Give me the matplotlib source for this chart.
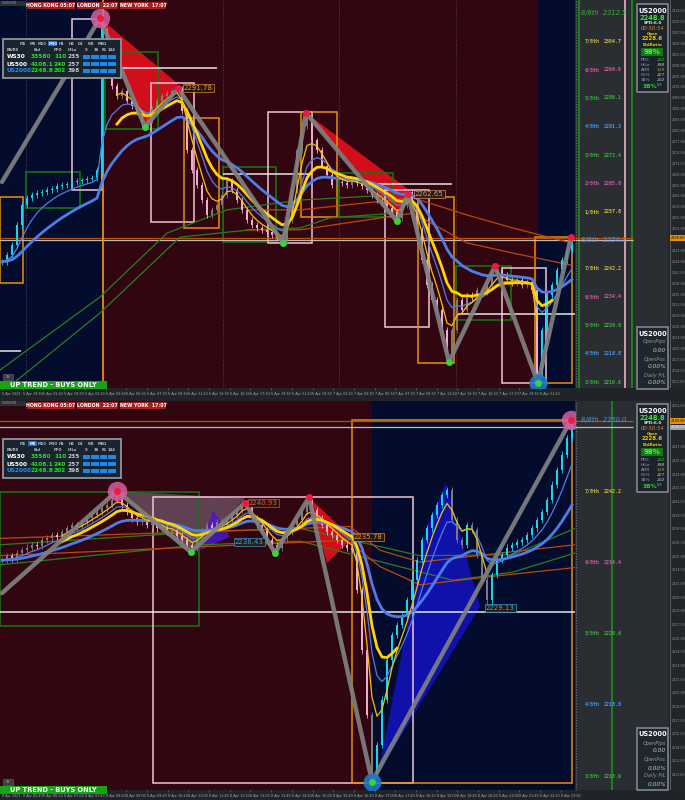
import matplotlib
matplotlib.use('Agg')
import matplotlib.pyplot as plt
from matplotlib.patches import Rectangle, Polygon
from matplotlib.ticker import MaxNLocator
import numpy as np
import pandas as pd

# ---------------- data: upper chart ----------------
top_close = [2244.0, 2245.9, 2248.6, 2254.1, 2259.6, 2261.5, 2262.3, 2262.9, 2263.2, 2263.7,
             2264.0, 2264.8, 2265.1, 2265.3, 2265.9, 2266.2, 2266.4, 2266.7, 2267.0, 2269.2,
             2307.5, 2296.6, 2292.5, 2289.7, 2291.1, 2288.4, 2287.0, 2285.1, 2282.3, 2282.9,
             2286.2, 2288.4, 2289.7, 2290.6, 2291.1, 2291.6, 2285.6, 2274.7, 2269.2, 2265.1,
             2261.0, 2256.8, 2258.2, 2259.6, 2262.3, 2266.4, 2263.7, 2261.0, 2258.2, 2255.5,
             2254.1, 2253.3, 2252.7, 2252.2, 2251.4, 2250.5, 2250.0, 2255.5, 2263.7, 2274.7,
             2281.5, 2283.4, 2277.4, 2274.7, 2270.5, 2267.8, 2265.1, 2265.9, 2265.6, 2265.1,
             2266.4, 2265.6, 2264.8, 2263.7, 2262.3, 2261.0, 2260.1, 2258.8, 2257.7, 2256.0,
             2259.6, 2263.2, 2259.6, 2252.7, 2244.5, 2237.7, 2233.6, 2230.8, 2225.3, 2219.3,
             2225.3, 2233.6, 2230.8, 2234.9, 2234.1, 2236.3, 2235.8, 2237.7, 2240.4, 2241.8,
             2240.4, 2239.0, 2238.2, 2239.0, 2237.7, 2238.5, 2236.3, 2213.0, 2225.3, 2234.9,
             2237.7, 2241.8, 2244.5, 2247.3, 2248.8]
top_sessions = [(-0.4, 20.4, 'navy'), (20.4, 107.2, 'red'), (107.2, 114.6, 'navy')]
top_swing_x = [0.0, 19.6, 28.6, 35.2, 56.2, 60.8, 79.0, 81.2, 89.4, 98.6, 107.2, 113.8]
top_swing_p = [2266.0, 2311.1, 2281.1, 2291.8, 2249.2, 2285.0, 2255.2, 2262.65, 2216.4, 2242.85, 2210.6, 2250.8]
top_big_high = [1]
top_big_low = [10]
top_boxes = [(-0.4, 4.2, 2261.8, 2238.2, 'orange'), (4.8, 15.6, 2268.7, 2258.8, 'green'),
             (14.0, 20.0, 2310.8, 2263.8, 'pink'), (20.6, 31.2, 2301.8, 2280.6, 'green'),
             (29.8, 38.4, 2293.2, 2255.0, 'pink'), (36.4, 43.4, 2283.6, 2253.3, 'orange'),
             (44.2, 54.8, 2270.1, 2249.5, 'green'), (53.2, 62.0, 2285.2, 2249.2, 'pink'),
             (59.8, 67.0, 2285.2, 2256.3, 'orange'), (67.4, 78.2, 2268.5, 2256.3, 'green'),
             (76.6, 85.4, 2263.8, 2226.1, 'pink'), (83.2, 90.4, 2261.8, 2216.1, 'orange'),
             (90.8, 101.8, 2242.8, 2228.0, 'green'), (100.0, 108.8, 2242.3, 2210.6, 'pink'),
             (106.6, 114.0, 2250.8, 2210.6, 'orange')]
top_white = [(20.6, 43.0, 2297.4), (44.2, 62.0, 2268.2), (72.2, 90.0, 2265.4),
             (91.0, 114.6, 2229.6), (-0.4, 3.8, 2219.4)]
top_levels = [(2250.6, 'orange'), (2250.0, 'light')]
top_tri = [([19.6, 35.2, 28.6], [2311.1, 2293.0, 2281.7], 'red'),
           ([60.8, 81.2, 79.0], [2285.0, 2264.0, 2256.9], 'red')]
top_long = [([-0.4, 19.6, 33.0, 45.0, 59.6, 78.2], [2214.2, 2234.3, 2251.9, 2258.3, 2261.0, 2262.4], 'green'),
            ([0.6, 19.6, 35.6, 49.6, 59.6, 65.6, 78.6], [2208.7, 2229.9, 2250.8, 2252.8, 2253.3, 2256.1, 2257.4], 'green'),
            ([49.6, 59.6, 82.2, 93.0, 102.2, 113.8], [2258.3, 2258.3, 2261.6, 2256.9, 2253.3, 2249.2], 'orange'),
            ([49.0, 59.6, 82.2, 93.0, 102.2, 113.8], [2252.8, 2252.8, 2257.4, 2249.2, 2246.4, 2243.1], 'orange')]
top_tags = [(36.4, 2291.78, '2291.78', 'orange'), (82.6, 2262.65, '2262.65', 'sand')]
top_seps = [4.8, 44.2, 67.4, 90.8]
top_vline = 20.2
top_times = ['5 Apr 2023', '5 Apr 19:30', '5 Apr 21:30', '5 Apr 23:30', '6 Apr 01:30', '6 Apr 03:30',
             '6 Apr 05:30', '6 Apr 07:30', '6 Apr 09:30', '6 Apr 11:30', '6 Apr 13:30', '6 Apr 15:30',
             '6 Apr 17:30', '6 Apr 19:30', '6 Apr 21:30', '6 Apr 23:30', '7 Apr 01:30', '7 Apr 03:30',
             '7 Apr 05:30', '7 Apr 07:30', '7 Apr 09:30', '7 Apr 11:30', '7 Apr 13:30', '7 Apr 15:30',
             '7 Apr 17:30', '7 Apr 19:30', '8 Apr 21:30']
top_mm_name = ['8/8th', '7/8th', '6/8th', '5/8th', '4/8th', '3/8th', '2/8th', '1/8th',
               '8/8th', '7/8th', '6/8th', '5/8th', '4/8th', '3/8th']
top_mm_val = [2312.5, 2304.7, 2296.9, 2289.1, 2281.3, 2273.4, 2265.6, 2257.8,
              2250.0, 2242.2, 2234.4, 2226.6, 2218.8, 2210.9]
top_mm_col = ['g', 'y', 'p', 'g', 'b', 'g', 'p', 'y', 'b', 'y', 'p', 'g', 'b', 'g']

# ---------------- data: lower chart ----------------
bot_close = [2234.6, 2235.1, 2234.8, 2235.4, 2235.7, 2236.0, 2236.3, 2236.2, 2236.8, 2237.0,
             2237.4, 2237.2, 2237.7, 2238.1, 2238.5, 2238.3, 2238.8, 2239.2, 2239.6, 2239.9,
             2240.3, 2240.7, 2241.2, 2241.7, 2240.7, 2239.9, 2239.2, 2238.8, 2239.0, 2238.5,
             2238.7, 2238.1, 2238.3, 2237.7, 2237.9, 2237.3, 2236.8, 2236.3, 2236.0, 2237.0,
             2237.9, 2238.5, 2238.1, 2238.8, 2238.5, 2239.0, 2239.6, 2240.1, 2240.9, 2240.7,
             2239.2, 2238.5, 2237.9, 2236.8, 2236.3, 2236.0, 2237.0, 2237.7, 2238.5, 2239.0,
             2239.9, 2241.0, 2240.1, 2239.2, 2238.5, 2237.7, 2237.4, 2236.8, 2236.3, 2236.0,
             2235.7, 2231.3, 2224.7, 2217.6, 2211.0, 2214.3, 2219.3, 2223.6, 2226.4, 2227.5,
             2228.6, 2230.2, 2232.4, 2234.6, 2236.8, 2238.1, 2239.6, 2240.7, 2241.8, 2242.3,
             2239.0, 2236.8, 2236.3, 2238.5, 2237.9, 2235.2, 2232.4, 2230.2, 2233.0, 2234.6,
             2235.2, 2236.0, 2236.3, 2236.6, 2236.8, 2237.4, 2238.1, 2239.0, 2239.9, 2241.2,
             2242.9, 2244.5, 2246.2, 2248.0, 2249.6]
bot_sessions = [(-0.4, 74.0, 'red'), (74.0, 114.6, 'navy')]
bot_swing_x = [0.0, 23.0, 37.8, 48.6, 54.6, 61.4, 74.0, 113.8]
bot_swing_p = [2231.0, 2242.2, 2235.5, 2240.93, 2235.4, 2241.5, 2210.3, 2250.0]
bot_big_high = [1, 7]
bot_big_low = [6]
bot_boxes = [(-0.4, 39.4, 2242.1, 2227.4, 'green'), (30.2, 82.2, 2241.5, 2210.1, 'pink'),
             (70.0, 114.0, 2250.0, 2210.1, 'orange')]
bot_white = [(-0.4, 114.6, 2228.9)]
bot_levels = [(2249.9, 'orange'), (2249.2, 'light')]
bot_tri = [([23.0, 48.6, 37.8], [2242.2, 2241.4, 2235.5], 'mauve'),
           ([42.2, 39.6, 45.6], [2240.1, 2235.7, 2237.2], 'purple'),
           ([61.4, 70.0, 65.0], [2241.5, 2237.0, 2234.3], 'red'),
           ([75.2, 85.0, 88.8, 95.6], [2211.2, 2238.3, 2243.1, 2229.5], 'blue')]
bot_long = [([-0.4, 39.6, 59.6, 83.6, 102.2, 114.6], [2236.3, 2237.7, 2238.1, 2235.1, 2235.2, 2238.1], 'green'),
            ([-0.4, 39.6, 59.6, 90.2, 102.2, 114.6], [2234.1, 2236.3, 2236.7, 2232.4, 2233.3, 2235.4], 'green'),
            ([-0.4, 69.6, 75.6, 83.6, 98.2, 114.6], [2237.0, 2238.3, 2235.7, 2234.4, 2235.3, 2236.3], 'orange'),
            ([-0.4, 69.0, 75.6, 83.6, 97.6, 114.6], [2235.1, 2236.8, 2233.9, 2231.9, 2232.8, 2233.8], 'orange')]
bot_tags = [(49.4, 2240.93, '2240.93', 'red'), (46.6, 2236.6, '2236.43', 'cyan'),
            (70.4, 2237.2, '2235.78', 'orange'), (96.8, 2229.4, '2229.13', 'cyan')]
bot_times = ['8 Apr 2023', '8 Apr 05:40', '8 Apr 06:20', '8 Apr 07:00', '8 Apr 07:40', '8 Apr 08:20',
             '8 Apr 09:00', '8 Apr 09:40', '8 Apr 10:20', '8 Apr 11:00', '8 Apr 11:40', '8 Apr 12:20',
             '8 Apr 13:00', '8 Apr 13:40', '8 Apr 14:20', '8 Apr 15:00', '8 Apr 15:40', '8 Apr 16:20',
             '8 Apr 17:00', '8 Apr 17:40', '8 Apr 18:20', '8 Apr 19:00', '8 Apr 19:40', '8 Apr 20:20',
             '8 Apr 21:00', '8 Apr 21:40', '8 Apr 22:20', '8 Apr 23:00']
bot_mm_name = ['8/8th', '7/8th', '6/8th', '5/8th', '4/8th', '3/8th']
bot_mm_val = [2250.0, 2242.2, 2234.4, 2226.6, 2218.8, 2210.9]
bot_mm_col = ['b', 'y', 'p', 'g', 'b', 'g']

# ---------------- data: panels ----------------
tf_names = ['M1', 'M5', 'M15', 'M30', 'H1', 'H4', 'D1', 'W1', 'MN1']
pair_names = ['WS30', 'US500', 'US2000']
pair_bid = ['33580', '4108.1', '2248.8']
pair_pfo = ['110', '240', '202']
pair_hilo = ['235', '257', '398']
sessions_txt = ['HONG KONG 05:07', 'LONDON  22:07', 'NEW YORK  17:07']
quote_rows = [('PFO', '202'), ('HiLo', '398'), ('ADR', '529'), ('61%', '327'), ('38%', '202')]

# ---------------- style ----------------
NAVY, MAROON = '#030c2c', '#320610'
BOXC = {'orange': '#e8900c', 'green': '#137a13', 'pink': '#f2c4d6'}
TRIC = {'red': ('#f0101e', 0.85), 'mauve': ('#9a8aa8', 0.45), 'purple': ('#4a18c8', 0.85),
        'blue': ('#1212b8', 0.9)}
LONGC = {'green': '#2c7d1c', 'orange': '#c0450c'}
TAGC = {'orange': '#e8933a', 'sand': '#d9a07a', 'red': '#ee4b45', 'cyan': '#35a8e0'}
MMC = {'g': '#3cb03c', 'y': '#d2bc40', 'p': '#cc5ca2', 'b': '#4596ea'}

W, H = 685.0, 800.0
fig = plt.figure(figsize=(6.85, 8.0), dpi=100)
fig.patch.set_facecolor('#202327')


def px_axes(x0, y0, x1, y1, z):
    return fig.add_axes([x0 / W, 1 - y1 / H, (x1 - x0) / W, (y1 - y0) / H], zorder=z)


def chart(y0, y1, ylim, close, sessions, sw_x, sw_p, big_hi, big_lo, boxes, whites, levels,
          tris, longs, tags, times, yel, wick, mm_name, mm_val, mm_col, mm_lines, tag_kinds):
    ax = px_axes(0, y0, 575, y1, 2)
    ax.set_xlim(-0.4, 114.6)
    ax.set_ylim(*ylim)
    ax.set_facecolor('none')
    for s in ax.spines.values():
        s.set_visible(False)
    for a, b, kind in sessions:
        ax.axvspan(a, b, color=NAVY if kind == 'navy' else MAROON, lw=0, zorder=0)

    for xs, ps, kind in tris:
        fc, al = TRIC[kind]
        ax.add_patch(Polygon(np.c_[xs, ps], closed=True, fc=fc, ec='none', alpha=al, zorder=1.5))
    for a, b, pt, pb, kind in boxes:
        ax.add_patch(Rectangle((a, pb), b - a, pt - pb, fill=False, ec=BOXC[kind], lw=1.1, zorder=2))
    for a, b, p in whites:
        ax.hlines(p, a, b, color='#e6e6e6', lw=1.1, zorder=2)
    for p, kind in levels:
        ax.axhline(p, color='#b8500c' if kind == 'orange' else '#b9b9c0', lw=0.9, zorder=2)
    for xs, ps, kind in longs:
        ax.plot(xs, ps, color=LONGC[kind], lw=0.9, zorder=2.5)

    c = np.asarray(close)
    o = np.r_[c[0], c[:-1]]
    x = np.arange(len(c))
    navy = np.zeros(len(c), bool)
    for a, b, kind in sessions:
        if kind == 'navy':
            navy |= (x >= a) & (x < b)
    bull = c >= o
    cols = np.where(bull & navy, '#17d6ea', np.where(~bull & ~navy, '#f0acd2', '#7c7c80'))
    ax.vlines(x, np.minimum(o, c) - wick, np.maximum(o, c) + wick, colors=cols, lw=0.6, zorder=3)
    ax.bar(x, np.maximum(np.abs(c - o), wick * 0.3), bottom=np.minimum(o, c), width=0.5,
           color=cols, lw=0, zorder=3)

    s = pd.Series(c)
    ax.plot(x, s.ewm(span=20, adjust=False).mean(), color='#4d7ee8', lw=2.0, zorder=4)
    ax.plot(x, s.ewm(span=7, adjust=False).mean(), color='#4d7ee8', lw=0.9, zorder=4)
    ya, yb, yc = yel
    ax.plot(x[ya:yb], s.ewm(span=10, adjust=False).mean()[ya:yb], color='#ffd500', lw=2.0, zorder=4.5)
    ax.plot(x[ya:yc], s.ewm(span=4, adjust=False).mean()[ya:yc], color='#f2c200', lw=0.9, zorder=4.5)

    ax.plot(sw_x, sw_p, color='#808080', lw=3.2, alpha=0.92, solid_capstyle='round',
            solid_joinstyle='round', zorder=5)
    for k in range(1, len(sw_x)):
        up = sw_p[k] > sw_p[k - 1]
        if k in big_hi:
            ax.plot(sw_x[k], sw_p[k], 'o', ms=14, color='#d8609e', alpha=0.85, mec='none', zorder=6)
        if k in big_lo:
            ax.plot(sw_x[k], sw_p[k], 'o', ms=13, color='#1f78c8', alpha=0.9, mec='none', zorder=6)
        ax.plot(sw_x[k], sw_p[k], 'o', ms=5, color='#ee1a40' if up else '#3ad23a', mec='none', zorder=7)

    for i, p, txt, kind in tags:
        ax.text(i, p, txt, color=TAGC[kind], fontsize=5, va='center', ha='left', zorder=8,
                bbox=dict(boxstyle='square,pad=0.15', fc='#2a1812', ec=TAGC[kind], lw=0.5, alpha=0.9))

    ax.set_yticks([])
    ax.set_xticks(np.arange(len(times)) * 4.14)
    ax.set_xticklabels(times, fontsize=2.4, color='#a6abb0', ha='left')
    ax.tick_params(axis='x', length=1.5, width=0.4, pad=1.2, color='#888888')

    # murrey area
    mx = px_axes(575, y0, 668, y1, 1)
    mx.set_xlim(575, 668)
    mx.set_ylim(*ylim)
    mx.set_facecolor('#2a2d32')
    mx.set_xticks([])
    mx.set_yticks([])
    for s in mx.spines.values():
        s.set_visible(False)
    mx.axvline(575.6, color='#70737a', lw=0.8, ls=(0, (1, 1.5)))
    for xv, col in mm_lines:
        mx.axvline(xv, color=col, lw=1.3)
    for p, kind in levels:
        mx.hlines(p, 575, 633, color='#b8500c' if kind == 'orange' else '#b9b9c0', lw=0.9)
    for nm, v, cc in zip(mm_name, mm_val, mm_col):
        if nm == '8/8th':
            mx.text(581, v, f'{nm}  {v:.1f}', color=MMC[cc], fontsize=4.8, style='italic',
                    va='center', ha='left', zorder=5)
        else:
            mx.text(585, v, nm, color=MMC[cc], fontsize=3.6, family='DejaVu Sans Mono',
                    weight='bold', va='center', ha='left', zorder=5)
            mx.text(604, v, f'{v:.1f}', color=MMC[cc], fontsize=3.6, family='DejaVu Sans Mono',
                    weight='bold', va='center', ha='left', zorder=5)

    # price scale
    pa = px_axes(668, y0, 685, y1, 1)
    pa.set_xlim(0, 1)
    pa.set_ylim(*ylim)
    pa.set_facecolor('#222529')
    pa.set_xticks([])
    pa.set_yticks([])
    for s in pa.spines.values():
        s.set_visible(False)
    pa.axvline(0.1, color='#5c6066', lw=0.7)
    tag_p = [p for p, kind in levels if kind in tag_kinds]
    for t in MaxNLocator(nbins=36).tick_values(*ylim):
        if ylim[0] + 0.5 < t < ylim[1] - 0.5 and all(abs(t - p) > (ylim[1] - ylim[0]) / 60 for p in tag_p):
            pa.text(0.2, t, f'{t:.2f}', fontsize=2.3, color='#8e949a', va='center', ha='left')
    for p, kind in levels:
        if kind not in tag_kinds:
            continue
        fc = '#e8900c' if kind == 'orange' else '#9a9ea4'
        pa.text(0.15, p, f'{p:.2f}', fontsize=2.5, color='black' if kind == 'orange' else 'white',
                va='center', ha='left', bbox=dict(boxstyle='square,pad=0.2', fc=fc, ec='none'))
    return ax


top_ax = chart(0, 388, (2209.26, 2316.08), top_close, top_sessions, top_swing_x, top_swing_p,
               top_big_high, top_big_low, top_boxes, top_white, top_levels, top_tri, top_long,
               top_tags, top_times, (23, 111, 108), 0.8, top_mm_name, top_mm_val, top_mm_col,
               [(579, '#1a8a1a'), (625, '#d9aab8'), (632, '#1a8a1a')], ['orange'])
top_ax.axvline(top_vline, color='#e8900c', lw=1.3, zorder=2)
for sx in top_seps:
    top_ax.axvline(sx, color='#5a5a66', lw=0.6, ls=(0, (1, 2)), zorder=1)

bot_ax = chart(401, 790, (2209.37, 2252.09), bot_close, bot_sessions, bot_swing_x, bot_swing_p,
               bot_big_high, bot_big_low, bot_boxes, bot_white, bot_levels, bot_tri, bot_long,
               bot_tags, bot_times, (12, 80, 98), 0.35, bot_mm_name, bot_mm_val, bot_mm_col,
               [(612, '#1a8a1a')], ['orange', 'light'])

# ---------------- overlay panels ----------------
hud = fig.add_axes([0, 0, 1, 1], zorder=10)
hud.set_xlim(0, W)
hud.set_ylim(H, 0)
hud.axis('off')
hud.patch.set_alpha(0)

tf_x = [23, 33, 42, 53, 62, 72, 81, 91, 102]
hdr = [('PAIRS', 7), ('Bid', 37), ('PFO', 58), ('HiLo', 72), ('9', 86), ('36', 96), ('81', 104), ('144', 112)]
bar_x = [83, 91.5, 100, 108.5]


def pairs_panel(y, hl):
    hud.add_patch(Rectangle((3, y), 118, 39, fc='#1a242e', ec='#8f959c', lw=1.3))
    for nm, xx in zip(tf_names, tf_x):
        col = '#b7bcc2'
        if nm == hl:
            hud.add_patch(Rectangle((xx - 4.5, y + 2.2), 9, 5, fc='#1d6fd6', lw=0))
            col = 'white'
        hud.text(xx, y + 4.8, nm, ha='center', va='center', fontsize=2.7, color=col, weight='bold')
    for t, xx in hdr:
        hud.text(xx, y + 11, t, ha='center' if t != 'PAIRS' else 'left', va='center',
                 fontsize=2.7, color='#b7bcc2', weight='bold')
    for k in range(3):
        yy = y + 18 + 7 * k
        hud.text(7, yy, pair_names[k], fontsize=4.2, weight='bold', va='center',
                 color='#2a8cf0' if k == 2 else 'white')
        hud.text(31, yy, pair_bid[k], fontsize=4.2, weight='bold', va='center', color='#1ee61e')
        hud.text(54, yy, pair_pfo[k], fontsize=4.2, weight='bold', va='center', color='#1ee61e')
        hud.text(68, yy, pair_hilo[k], fontsize=4.2, weight='bold', va='center', color='#c8c8c8')
        for bx in bar_x:
            hud.add_patch(Rectangle((bx, yy - 1.8), 7.5, 3.6, fc='#1e88e8', lw=0))


def session_bar(y):
    hud.add_patch(Rectangle((0, y - 0.5), 26, 4.5, fc='#2c2f34', lw=0))
    hud.text(1.5, y + 1.8, 'US2000,M5', fontsize=2.0, color='#9a9fa5', va='center')
    for (a, b), t in zip([(27, 75), (77, 118), (120, 166)], sessions_txt):
        hud.add_patch(Rectangle((a, y), b - a, 7, fc='#a51c1f', lw=0))
        hud.text((a + b) / 2, y + 3.6, t, fontsize=3.4, weight='bold', color='white',
                 ha='center', va='center')


def quote_panel(y):
    hud.add_patch(Rectangle((637, y), 31, 88, fc='#1a232c', ec='#80868d', lw=1.2))
    cx = 652.5
    hud.text(cx, y + 7, 'US2000', fontsize=4.8, weight='bold', color='white', ha='center', va='center')
    hud.text(cx, y + 13.5, pair_bid[2], fontsize=4.8, weight='bold', color='#2af02a', ha='center', va='center')
    hud.text(cx, y + 19.5, 'SPD:6.0', fontsize=3.0, weight='bold', color='#e0e0e0', ha='center', va='center')
    hud.text(cx, y + 25, '00:50:54', fontsize=3.8, style='italic', color='#e58c1a', ha='center', va='center')
    hud.text(cx, y + 30, 'Open', fontsize=2.8, weight='bold', color='#e6c400', ha='center', va='center')
    hud.text(cx, y + 35, '2228.6', fontsize=4.0, weight='bold', color='#e6c400', ha='center', va='center')
    hud.text(cx, y + 41, 'BidRatio', fontsize=3.0, weight='bold', color='#e6c400', ha='center', va='center')
    hud.add_patch(Rectangle((641, y + 44), 22, 8, fc='#0e7a10', lw=0))
    hud.text(cx, y + 48, '98%', fontsize=5.0, weight='bold', color='#3cff3c', ha='center', va='center')
    for k, (lab, val) in enumerate(quote_rows):
        yy = y + 56 + 5 * k
        hud.text(641, yy, lab, fontsize=3.2, color='#9aa0a6', va='center')
        vc = '#d08a30' if lab == 'ADR' else ('#2ad02a' if k == 0 else '#c8c8c8')
        hud.text(657, yy, val, fontsize=3.2, style='italic', color=vc, va='center')
    hud.text(650, y + 82, '38%', fontsize=4.4, weight='bold', color='#2ad02a', ha='center', va='center')
    hud.text(657, y + 80.5, 'ADR', fontsize=2.0, color='#2ad02a', va='center')


def account_panel(y):
    hud.add_patch(Rectangle((637, y), 31, 62, fc='#1e262e', ec='#80868d', lw=1.2))
    hud.text(652.5, y + 6.5, 'US2000', fontsize=4.8, weight='bold', color='white', ha='center', va='center')
    rows = [('OpenPips', 15), ('0.00', 23), ('OpenPos', 32), ('0.00%', 40), ('Daily P/L', 48), ('0.00%', 56)]
    for t, dy in rows:
        big = t[0].isdigit()
        hud.text(666, y + dy, t, fontsize=4.2 if big else 3.6, style='italic',
                 color='#c0c4c8' if big else '#8e949a', ha='right', va='center')


def trend_flag(y):
    hud.add_patch(Rectangle((3, y - 7), 10, 6, fc='#3a3c40', ec='#55585c', lw=0.5))
    hud.text(8, y - 4, 'ON', fontsize=2.2, color='#aaaaaa', ha='center', va='center')
    hud.add_patch(Rectangle((0, y), 107, 7.5, fc='#16a316', lw=0))
    hud.text(53, y + 3.8, 'UP TREND - BUYS ONLY', fontsize=4.8, weight='bold', color='white',
             ha='center', va='center')


session_bar(1.5)
session_bar(401.5)
pairs_panel(39, 'M30')
pairs_panel(439, 'M5')
quote_panel(4)
quote_panel(404)
account_panel(327)
account_panel(728)
trend_flag(381)
trend_flag(786)

fig.savefig('out.png', dpi=100, facecolor=fig.get_facecolor())
